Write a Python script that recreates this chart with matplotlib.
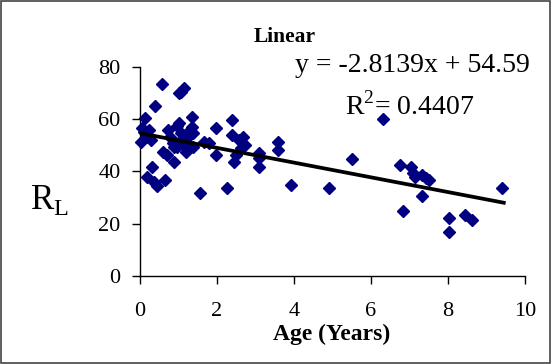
import matplotlib
matplotlib.use("Agg")
import matplotlib.pyplot as plt
import numpy as np
from matplotlib.patches import Rectangle

# age in years vs R_L
age = [0.03, 0.05, 0.14, 0.10, 0.23, 0.18, 0.32, 0.37, 0.39, 0.28,
       0.58, 0.65, 0.60, 0.69, 0.74, 0.78, 0.88, 0.88, 1.01, 1.06,
       1.15, 1.01, 1.06, 1.15, 0.97, 1.24, 1.34, 1.34, 1.38, 1.29,
       1.38, 1.20, 1.66, 1.57, 1.80, 1.98, 1.98, 2.26, 2.40, 2.40,
       2.44, 2.49, 2.58, 2.67, 2.72, 2.63, 3.09, 3.09, 3.09, 3.59,
       3.59, 3.92, 4.91, 5.51, 6.31, 6.76, 6.82, 7.05, 7.10, 7.14,
       7.33, 7.42, 7.51, 7.33, 8.02, 8.02, 8.43, 8.62, 9.40, 0.45,
       0.85, 1.10, 0.20, 0.95, 1.25]
rl = [51.3, 56.4, 60.3, 55.0, 55.8, 38.0, 41.8, 36.0, 65.0, 52.0,
      73.2, 36.7, 47.5, 46.2, 55.8, 53.2, 43.7, 49.4, 69.8, 70.4,
      71.7, 58.3, 54.5, 50.7, 49.4, 53.2, 60.9, 57.1, 49.4, 55.8,
      54.5, 47.5, 51.3, 31.8, 50.7, 56.4, 46.2, 33.5, 59.6, 53.9,
      43.7, 46.2, 52.0, 53.2, 50.0, 48.8, 46.9, 41.8, 45.0, 51.3,
      48.2, 34.8, 33.5, 44.6, 60.0, 42.4, 25.0, 41.8, 39.2, 38.0,
      38.6, 37.3, 36.7, 30.6, 22.0, 16.7, 23.3, 21.4, 33.5, 34.5,
      51.0, 52.5, 53.0, 57.5, 48.5]

# trendline reported on the chart
slope = -2.8139
intercept = 54.59
r_squared = 0.4407
x_ticks = [0, 2, 4, 6, 8, 10]
y_ticks = [0, 20, 40, 60, 80]

serif = "Liberation Serif"

fig = plt.figure(figsize=(5.52, 3.64), dpi=100)
fig.patches.append(Rectangle((0.002, 0.003), 0.995, 0.994, transform=fig.transFigure,
                             fill=False, edgecolor="#444444", linewidth=1.2))

ax = fig.add_axes([0.2536, 0.2418, 0.6974, 0.575])
ax.plot(age, rl, linestyle="none", marker="D", markersize=5.8,
        color="#000080", clip_on=False, zorder=3)

fit_x = np.array([0.0, max(age) + 0.05])
ax.plot(fit_x, slope * fit_x + intercept, color="black", linewidth=2.7, zorder=4)

ax.set_xlim(0, 10)
ax.set_ylim(0, 80)
ax.set_xticks(x_ticks)
ax.set_yticks(y_ticks)
for side in ("top", "right"):
    ax.spines[side].set_visible(False)
for side in ("left", "bottom"):
    ax.spines[side].set_linewidth(1.0)
ax.tick_params(axis="both", direction="out", length=6, width=1.0)
ax.tick_params(axis="x", pad=13)
ax.tick_params(axis="y", pad=8)
for label in ax.get_xticklabels() + ax.get_yticklabels():
    label.set_fontfamily(serif)
    label.set_fontsize(16)

fig.text(0.601, 0.066, "Age (Years)", fontfamily=serif, fontweight="bold",
         fontsize=17, ha="center", va="baseline")
fig.text(0.09, 0.45, "R$_\\mathregular{L}$", fontfamily=serif, fontsize=25,
         ha="center", va="center")

fig.text(0.516, 0.885, "Linear", fontfamily=serif, fontweight="bold", fontsize=15.5,
         ha="center", va="baseline")
fig.text(0.96, 0.803, f"y = {slope}x + {intercept}", fontfamily=serif, fontsize=20,
         ha="right", va="baseline")
fig.text(0.625, 0.684, f"R$^\\mathregular{{2}}$= {r_squared}", fontfamily=serif,
         fontsize=20, ha="left", va="baseline")

fig.savefig("out.png", dpi=100)
